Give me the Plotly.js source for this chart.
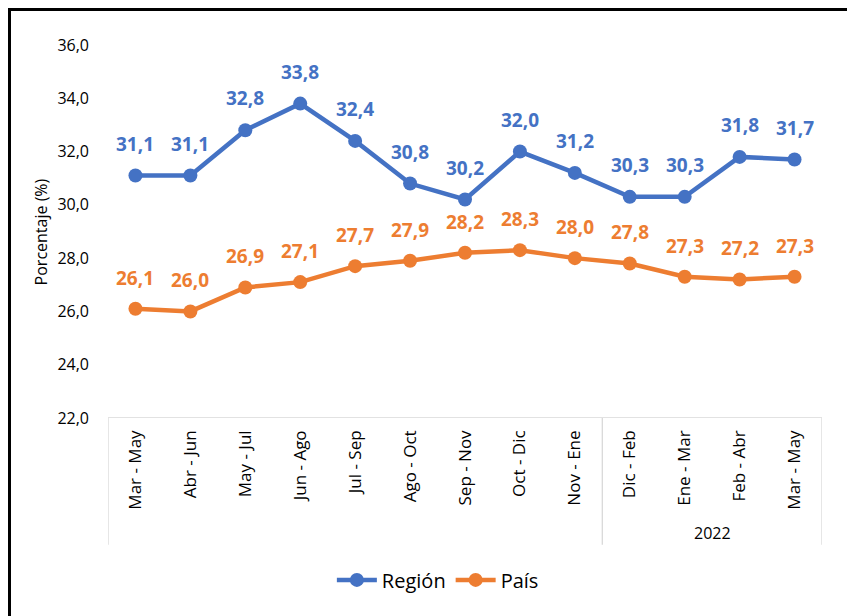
<!DOCTYPE html>
<html>
<head>
<meta charset="utf-8">
<script src="https://cdn.plot.ly/plotly-3.0.1.min.js"></script>
<style>
html,body{margin:0;padding:0;background:#fff;}
#wrap{position:relative;width:847px;height:616px;overflow:hidden;}
#chart{position:absolute;left:0;top:0;width:847px;height:616px;}
#frame{position:absolute;left:8px;top:8px;width:900px;height:700px;border-left:3px solid #000;border-top:3px solid #000;pointer-events:none;}
</style>
</head>
<body>
<div id="wrap"><div id="chart"></div><div id="frame"></div></div>
<script>
const categories = ["Mar - May","Abr - Jun","May - Jul","Jun - Ago","Jul - Sep","Ago - Oct","Sep - Nov","Oct - Dic","Nov - Ene","Dic - Feb","Ene - Mar","Feb - Abr","Mar - May"];
const regionValues = [31.1,31.1,32.8,33.8,32.4,30.8,30.2,32.0,31.2,30.3,30.3,31.8,31.7];
const paisValues = [26.1,26.0,26.9,27.1,27.7,27.9,28.2,28.3,28.0,27.8,27.3,27.2,27.3];
const yearGroups = [{label:"", start:0, end:8},{label:"2022", start:9, end:12}];
const yTicks = [22,24,26,28,30,32,34,36];

const blue = "#4472C4", orange = "#ED7D31";
const fontFam = "'Open Sans', 'Liberation Sans', sans-serif";
const xs = categories.map((_, i) => i);
const fmt = v => v.toFixed(1).replace('.', ',');

const traces = [
  {x: xs, y: regionValues, name: "Región", type: "scatter", mode: "lines+markers",
   line: {color: blue, width: 4.5}, marker: {color: blue, size: 14}},
  {x: xs, y: paisValues, name: "País", type: "scatter", mode: "lines+markers",
   line: {color: orange, width: 4.5}, marker: {color: orange, size: 14}}
];

const annotations = [];
regionValues.forEach((v, i) => annotations.push({x: i, y: v, xref: "x", yref: "y", text: fmt(v), showarrow: false, yshift: 32, font: {family: fontFam, size: 19, color: blue, weight: "bold"}}));
paisValues.forEach((v, i) => annotations.push({x: i, y: v, xref: "x", yref: "y", text: fmt(v), showarrow: false, yshift: 31, font: {family: fontFam, size: 19, color: orange, weight: "bold"}}));
yearGroups.forEach(g => { if (g.label) annotations.push({x: (g.start + g.end) / 2, y: -0.308, xref: "x", yref: "paper", xanchor: "center", yanchor: "middle", text: g.label, showarrow: false, font: {family: fontFam, size: 16, color: "#000"}}); });
annotations.push({x: -0.094, y: 0.5, xref: "paper", yref: "paper", xanchor: "center", yanchor: "middle", text: "Porcentaje (%)", textangle: -90, showarrow: false, font: {family: fontFam, size: 16, color: "#000"}});

const lineStyle = {color: "#d9d9d9", width: 1.3};
const shapes = [{type: "line", xref: "paper", yref: "y", x0: 0, x1: 1, y0: 22, y1: 22, line: lineStyle}];
const bounds = [-0.5];
yearGroups.forEach(g => bounds.push(g.end + 0.5));
bounds.forEach(b => shapes.push({type: "line", xref: "x", yref: "paper", x0: b, x1: b, y0: 0, y1: -0.34, line: lineStyle}));

const layout = {
  width: 847, height: 616,
  margin: {l: 107.5, r: 24.5, t: 45, b: 198, autoexpand: false},
  paper_bgcolor: "rgba(0,0,0,0)", plot_bgcolor: "rgba(0,0,0,0)",
  separators: ",.",
  showlegend: true,
  legend: {orientation: "h", x: 0.462, xanchor: "center", y: -0.434, yanchor: "middle", font: {family: fontFam, size: 20, color: "#000"}, itemwidth: 40, tracegroupgap: 0},
  xaxis: {range: [-0.5, 12.5], tickvals: xs, ticktext: categories, tickangle: -90, showgrid: false, zeroline: false, showline: false, ticks: "", ticklabelstandoff: 8, tickfont: {family: fontFam, size: 17, color: "#000"}, fixedrange: true},
  yaxis: {range: [22, 36], tickvals: yTicks, ticktext: yTicks.map(fmt), showgrid: false, zeroline: false, showline: false, ticks: "", ticklabelstandoff: 18, tickfont: {family: fontFam, size: 16, color: "#000"}, fixedrange: true},
  annotations: annotations,
  shapes: shapes
};
Plotly.newPlot("chart", traces, layout, {displayModeBar: false, staticPlot: true});
</script>
</body>
</html>
